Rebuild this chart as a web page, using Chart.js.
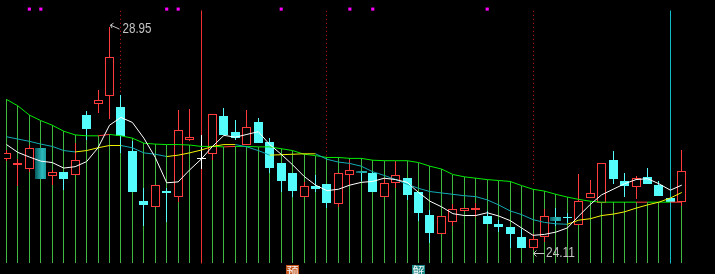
<!DOCTYPE html>
<html>
<head>
<meta charset="utf-8">
<script src="https://cdn.jsdelivr.net/npm/chart.js@4.4.1/dist/chart.umd.min.js"></script>
<style>
html, body { margin: 0; padding: 0; background: #000; }
canvas { display: block; }
</style>
</head>
<body>
<canvas id="kline" width="715" height="274"></canvas>
<script>
// daily K line, 60 sessions
const opens  = [26.07, 25.94, 25.87, 26.32, 25.70, 25.80, 25.74, 27.04, 27.26, 27.45,
                27.21, 26.24, 25.17, 25.04, 25.38, 25.25, 26.48, 26.08, 26.18, 27.02,
                26.66, 26.37, 26.87, 26.45, 25.99, 25.78, 25.25, 25.50, 25.54, 25.11,
                25.72, 25.82, 25.78, 25.25, 25.56, 25.67, 25.37, 24.87, 24.45, 24.71,
                24.94, 24.96, 24.83, 24.66, 24.60, 24.38, 24.14, 24.38, 24.81, 24.81,
                24.64, 25.23, 25.12, 26.05, 25.61, 25.47, 25.69, 25.52, 25.23, 25.15];
const highs  = [26.28, 26.07, 26.37, 26.32, 25.84, 25.80, 26.43, 27.12, 27.58, 28.95,
                27.46, 26.47, 25.45, 25.52, 25.44, 27.14, 27.17, 26.60, 27.06, 27.19,
                26.92, 27.14, 26.96, 26.54, 25.99, 25.78, 25.57, 25.73, 25.54, 25.78,
                26.06, 25.82, 25.80, 25.65, 26.03, 25.67, 25.37, 24.98, 24.85, 25.11,
                25.02, 25.12, 24.95, 24.76, 24.60, 24.55, 24.45, 24.99, 25.02, 24.91,
                25.75, 25.63, 25.99, 26.24, 25.78, 25.71, 25.88, 25.61, 25.23, 26.28];
const lows   = [26.03, 25.48, 25.80, 25.65, 25.51, 25.40, 25.74, 26.49, 27.07, 26.95,
                26.21, 25.36, 24.63, 25.04, 24.70, 25.14, 26.47, 25.86, 26.05, 26.60,
                26.49, 26.37, 26.43, 25.77, 25.35, 25.26, 25.25, 25.35, 25.02, 25.04,
                25.51, 25.61, 25.36, 25.25, 25.44, 25.19, 24.73, 24.26, 24.45, 24.63,
                24.94, 24.81, 24.66, 24.49, 24.15, 24.14, 24.11, 24.28, 24.62, 24.68,
                24.64, 25.23, 25.12, 25.54, 25.25, 25.21, 25.54, 25.27, 25.14, 25.05];
const closes = [26.20, 25.99, 26.32, 25.65, 25.80, 25.65, 26.06, 26.73, 27.36, 28.28,
                26.58, 25.36, 25.07, 25.52, 25.34, 26.70, 26.55, 26.08, 27.06, 26.60,
                26.53, 26.77, 26.43, 25.89, 25.59, 25.38, 25.50, 25.42, 25.13, 25.78,
                25.84, 25.77, 25.36, 25.56, 25.73, 25.29, 24.90, 24.47, 24.85, 25.00,
                25.02, 25.02, 24.66, 24.60, 24.45, 24.14, 24.34, 24.85, 24.74, 24.80,
                25.16, 25.33, 25.99, 25.65, 25.49, 25.67, 25.54, 25.27, 25.14, 25.82];

// moving averages and the upper band
const ma5  = [26.39, 26.22, 26.12, 26.03, 26.00, 25.88, 25.91, 26.02, 26.32, 26.81,
              26.98, 26.87, 26.53, 26.11, 25.56, 25.58, 25.84, 26.07, 26.35, 26.59,
              26.55, 26.61, 26.67, 26.39, 26.18, 25.95, 25.70, 25.51, 25.39, 25.42,
              25.51, 25.57, 25.59, 25.66, 25.63, 25.57, 25.35, 25.16, 25.04, 24.89,
              24.85, 24.85, 24.91, 24.84, 24.74, 24.58, 24.42, 24.44, 24.49, 24.58,
              24.84, 25.09, 25.30, 25.42, 25.54, 25.63, 25.65, 25.54, 25.40, 25.51];
const ma20 = [26.56, 26.51, 26.46, 26.40, 26.35, 26.26, 26.23, 26.26, 26.32, 26.37,
              26.37, 26.32, 26.21, 26.18, 26.13, 26.16, 26.21, 26.27, 26.35, 26.39,
              26.39, 26.34, 26.26, 26.16, 26.17, 26.18, 26.19, 26.19, 26.07, 26.01,
              25.98, 25.92, 25.80, 25.72, 25.63, 25.53, 25.44, 25.37, 25.34, 25.31,
              25.28, 25.26, 25.19, 25.08, 24.95, 24.87, 24.76, 24.70, 24.67, 24.66,
              24.75, 24.78, 24.85, 24.88, 24.93, 25.01, 25.08, 25.14, 25.23, 25.35];
const band = [27.37, 27.23, 27.03, 26.91, 26.81, 26.68, 26.60, 26.58, 26.58, 26.61,
              26.58, 26.53, 26.42, 26.40, 26.39, 26.39, 26.38, 26.35, 26.35, 26.34,
              26.35, 26.35, 26.34, 26.34, 26.30, 26.26, 26.18, 26.15, 26.11, 26.11,
              26.09, 26.09, 26.05, 26.04, 26.04, 26.04, 26.00, 25.92, 25.86, 25.74,
              25.69, 25.66, 25.63, 25.61, 25.59, 25.50, 25.42, 25.38, 25.31, 25.25,
              25.20, 25.16, 25.14, 25.14, 25.14, 25.14, 25.14, 25.14, 25.14, 25.14];
const bandRedSegs = [8, 19, 55, 58];

const gradientBars = [3, 31, 48];
const topDots = [2, 3, 14, 15, 24, 30, 32, 42];
const markIdx  = [10, 17, 28, 46, 58];
const markEnd  = [27.50, 23.815, 26.13, 25.48, 23.815];
const markKind = ['dot', 'red', 'dot', 'dot', 'cyan'];
const eventIdx  = [25, 36];
const eventText = ['预', '解'];

const Y_MIN = 23.6675, Y_MAX = 29.441;
const Y_TOP = 29.294, STICK_BASE = 23.815, DOT_Y = 29.33;

const UP = '#ff3c3c', DOWN = '#54fcfc', FLAT = '#ffffff';
const YEL = '#f2f200', TEAL = '#12aab4', LIME = '#00ec00', STICK = '#40b840';

function candleColor(i) {
    if (closes[i] > opens[i]) return UP;
    if (closes[i] < opens[i]) return DOWN;
    return FLAT;
}

const idx = opens.map((_, i) => i);
const normal = idx.filter(i => !gradientBars.includes(i));

// keep thin bars and vertical marks on whole pixels, like the terminal does
const pixelSnap = {
    id: 'pixelSnap',
    beforeDatasetsDraw(chart) {
        chart.getSortedVisibleDatasetMetas().forEach(function (meta) {
            if (meta.type === 'bar') {
                meta.data.forEach(function (el) {
                    el.x = Math.floor(el.x) + 0.5;
                    el.y = Math.round(el.y);
                    el.base = Math.round(el.base);
                });
            } else if (meta.label && meta.label.indexOf('mark') === 0) {
                meta.data.forEach(function (el) {
                    el.x = Math.floor(el.x) + 0.5;
                });
            }
        });
    }
};

const extremes = {
    id: 'extremes',
    afterDatasetsDraw(chart) {
        const ctx = chart.ctx;
        const xs = chart.scales.x, ys = chart.scales.y;
        const hi = highs.indexOf(Math.max(...highs));
        const lo = lows.indexOf(Math.min(...lows));

        ctx.save();
        ctx.strokeStyle = '#c4c4c4';
        ctx.fillStyle = '#c4c4c4';
        ctx.lineWidth = 1;
        ctx.font = '14px "Liberation Sans", Arial, sans-serif';
        ctx.textBaseline = 'middle';

        const drawText = (txt, x0, y0) => {
            const w = ctx.measureText(txt).width;
            ctx.save();
            ctx.translate(x0, y0);
            ctx.scale(29 / w, 1);
            ctx.fillText(txt, 0, 0);
            ctx.restore();
        };

        // high
        let px = Math.floor(xs.getPixelForValue(hi)) + 0.5, py = ys.getPixelForValue(highs[hi]);
        ctx.beginPath();
        ctx.moveTo(px + 10, py + 2.5);
        ctx.lineTo(px + 1, py - 1.5);
        ctx.moveTo(px + 1, py - 1.5);
        ctx.lineTo(px + 4, py - 3.5);
        ctx.moveTo(px + 1, py - 1.5);
        ctx.lineTo(px + 2.5, py + 1.5);
        ctx.stroke();
        drawText(highs[hi].toFixed(2), px + 13, py + 3);

        // low
        px = Math.floor(xs.getPixelForValue(lo)) + 0.5;
        py = Math.round(ys.getPixelForValue(lows[lo])) + 3.5;
        ctx.beginPath();
        ctx.moveTo(px + 11, py);
        ctx.lineTo(px, py);
        ctx.moveTo(px, py);
        ctx.lineTo(px + 3, py - 3);
        ctx.moveTo(px, py);
        ctx.lineTo(px + 3, py + 3);
        ctx.stroke();
        drawText(lows[lo].toFixed(2), px + 12.5, py - 0.5);

        // event tags at the bottom
        const tagColors = ['#c4561c', '#1a8a8a'];
        ctx.font = '12px "Noto Sans CJK SC", sans-serif';
        ctx.textAlign = 'center';
        ctx.textBaseline = 'top';
        eventIdx.forEach(function (ei, k) {
            const ex = Math.floor(xs.getPixelForValue(ei));
            ctx.fillStyle = tagColors[k];
            ctx.fillRect(ex - 6, 265, 13, 14);
            ctx.fillStyle = '#f4f4f4';
            ctx.fillText(eventText[k], ex + 0.5, 265);
        });
        ctx.restore();
    }
};

const datasets = [
    {
        type: 'line', label: 'MA5',
        data: idx.map(i => ({ x: i, y: ma5[i] })),
        borderColor: '#ffffff', borderWidth: 1, pointRadius: 0, tension: 0
    },
    {
        type: 'line', label: 'MA20',
        data: idx.map(i => ({ x: i, y: ma20[i] })),
        borderColor: YEL, borderWidth: 1, pointRadius: 0, tension: 0,
        segment: { borderColor: s => s.p1.parsed.y >= s.p0.parsed.y ? YEL : TEAL }
    },
    {
        type: 'line', label: 'band',
        data: idx.map(i => ({ x: i, y: band[i] })),
        borderColor: LIME, borderWidth: 1, pointRadius: 0, tension: 0,
        segment: { borderColor: s => bandRedSegs.includes(s.p0DataIndex) ? UP : LIME }
    },
    {
        type: 'line', label: 'dots', showLine: false,
        data: topDots.map(i => ({ x: i, y: DOT_Y })),
        pointStyle: 'rect', pointRadius: 2.2, borderWidth: 0,
        backgroundColor: '#ff00ff'
    },
    {
        type: 'bar', label: 'body',
        data: normal.map(i => ({ x: i, y: [opens[i], closes[i]], i: i })),
        grouped: false, barThickness: 9, minBarLength: 1, borderSkipped: false,
        inflateAmount: 0,
        backgroundColor: c => c.raw ? (candleColor(c.raw.i) === UP ? '#000' : candleColor(c.raw.i)) : '#000',
        borderColor: c => c.raw ? candleColor(c.raw.i) : UP,
        borderWidth: c => c.raw && candleColor(c.raw.i) === UP ? 1 : 0
    },
    {
        type: 'bar', label: 'bodyMarked',
        data: gradientBars.map(i => ({ x: i, y: [opens[i], closes[i]], i: i })),
        grouped: false, barThickness: 11, minBarLength: 2, borderWidth: 0,
        inflateAmount: 0,
        backgroundColor: function (c) {
            const chart = c.chart;
            if (!c.raw || !chart.chartArea) return '#1a9a9c';
            const x = Math.floor(chart.scales.x.getPixelForValue(c.raw.x)) + 0.5;
            const g = chart.ctx.createLinearGradient(x - 5.5, 0, x + 5.5, 0);
            g.addColorStop(0, '#08585c');
            g.addColorStop(0.65, '#2cbcbe');
            g.addColorStop(1, '#1c9a9c');
            return g;
        }
    },
    {
        type: 'bar', label: 'wick',
        data: idx.filter(i => i !== 3).map(i => ({ x: i, y: [lows[i], highs[i]], i: i })),
        grouped: false, barThickness: 1, borderWidth: 0, inflateAmount: 0,
        backgroundColor: c => c.raw ? candleColor(c.raw.i) : UP
    }
];

markIdx.forEach(function (mi, k) {
    const kind = markKind[k];
    datasets.push({
        type: 'line', label: 'mark' + k,
        data: [{ x: mi, y: Y_TOP }, { x: mi, y: markEnd[k] }],
        borderColor: kind === 'cyan' ? '#10bcc8' : (kind === 'red' ? '#ee3030' : '#d81818'),
        borderDash: kind === 'dot' ? [1, 3] : [],
        borderWidth: 1, pointRadius: 0
    });
});

datasets.push({
    type: 'bar', label: 'sticks',
    data: idx.map(i => ({ x: i, y: [STICK_BASE, band[i]] })),
    grouped: false, barThickness: 1, borderWidth: 0, inflateAmount: 0,
    backgroundColor: STICK
});

new Chart(document.getElementById('kline').getContext('2d'), {
    type: 'bar',
    data: { datasets: datasets },
    options: {
        responsive: false,
        animation: false,
        devicePixelRatio: 1,
        layout: { padding: 0 },
        plugins: { legend: { display: false }, tooltip: { enabled: false } },
        scales: {
            x: { type: 'linear', display: false, offset: false, min: -0.216, max: 61.55,
                 grid: { display: false } },
            y: { type: 'linear', display: false, min: Y_MIN, max: Y_MAX,
                 grid: { display: false } }
        }
    },
    plugins: [pixelSnap, extremes]
});
</script>
</body>
</html>
